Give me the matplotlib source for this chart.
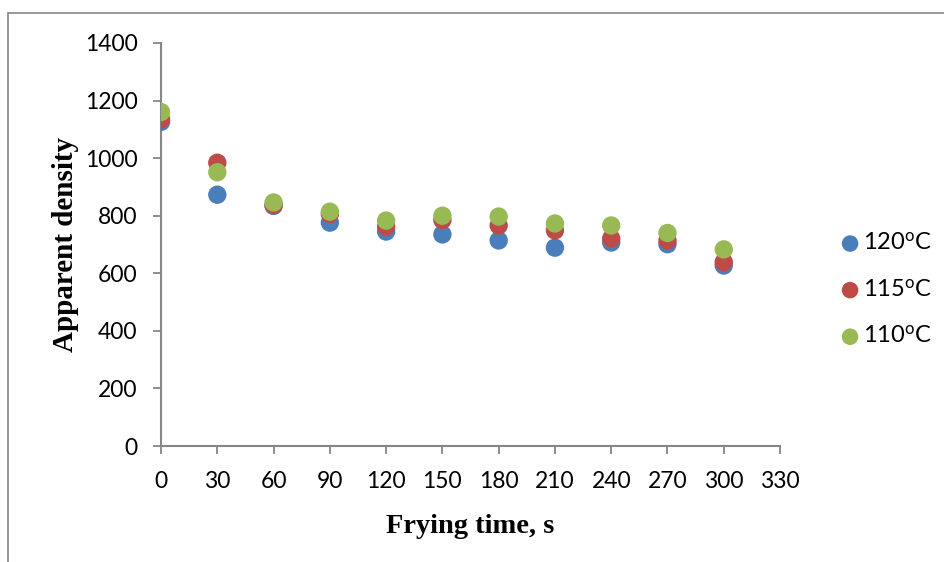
import matplotlib
matplotlib.use("Agg")
import matplotlib.pyplot as plt
from matplotlib.patches import Rectangle

plt.rcParams['font.family'] = ['Lato', 'DejaVu Sans']
plt.rcParams['mathtext.default'] = 'regular'

# frying time (s) and apparent density per oil temperature
time_s = [0, 30, 60, 90, 120, 150, 180, 210, 240, 270, 300]
dens_120 = [1126, 873, 834, 776, 745, 735, 714, 689, 707, 701, 627]
dens_115 = [1135, 984, 837, 806, 762, 785, 766, 749, 721, 714, 639]
dens_110 = [1160, 951, 846, 814, 783, 800, 797, 773, 766, 740, 683]
labels = ['120$^{o}$C', '115$^{o}$C', '110$^{o}$C']
colors = ['#4a7ebb', '#be4b48', '#98b954']

fig = plt.figure(figsize=(9.44, 5.62), dpi=100)
ax = fig.add_axes([0.1706, 0.2064, 0.6557, 0.7171])

for ys, lab, c in zip([dens_120, dens_115, dens_110], labels, colors):
    ax.scatter(time_s, ys, s=175, color=c, label=lab, edgecolors='none', zorder=3)

ax.set_xlim(0, 330)
ax.set_ylim(0, 1400)
ax.set_xticks(range(0, 331, 30))
ax.set_yticks(range(0, 1401, 200))

for side in ['top', 'right']:
    ax.spines[side].set_visible(False)
for side in ['left', 'bottom']:
    ax.spines[side].set_color('#868686')
    ax.spines[side].set_linewidth(1.5)
ax.tick_params(direction='out', length=6, width=1.3, color='#868686', labelsize=16.5)
ax.tick_params(axis='x', pad=12)
ax.tick_params(axis='y', pad=11)

ax.set_xlabel('Frying time, s', family='Liberation Serif', fontweight='bold', fontsize=20.5, labelpad=16)
ax.set_ylabel('Apparent density', family='Liberation Serif', fontweight='bold', fontsize=21, labelpad=4)

ax.legend(loc='center left', bbox_to_anchor=(0.888, 0.485), bbox_transform=fig.transFigure,
          frameon=False, fontsize=17, handletextpad=0.05, labelspacing=1.05,
          markerscale=0.9, borderaxespad=0, handlelength=1.0, borderpad=0)

# outer chart frame (cut off at right and bottom)
fig.patches.append(Rectangle((8 / 944, -0.1), 1.2, 1 - 13 / 562 + 0.1, transform=fig.transFigure,
                             fill=False, edgecolor='#868686', linewidth=1.2))

fig.savefig('out.png', dpi=100)
